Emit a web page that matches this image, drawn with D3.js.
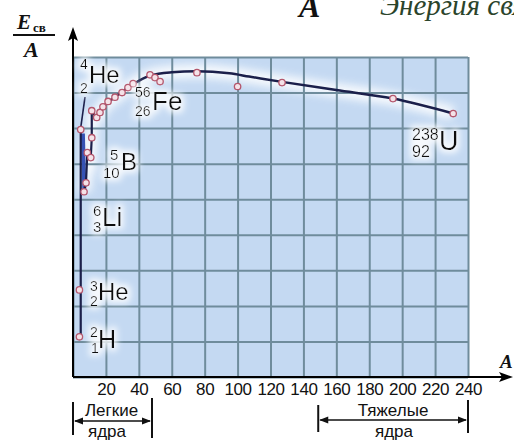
<!DOCTYPE html>
<html><head><meta charset="utf-8">
<script src="https://cdn.jsdelivr.net/npm/d3@7"></script>
<style>body{margin:0;background:#fff;overflow:hidden}svg{display:block}</style>
</head><body>
<svg id="c" width="514" height="441"></svg>
<script>
// ---------- data ----------
const gridA = [0,20,40,60,80,100,120,140,160,180,200,220,240];
const gridE = [0,1,2,3,4,5,6,7,8,9];
const xTickLabels = [20,40,60,80,100,120,140,160,180,200,220,240];

// measured nuclides (mass number A, binding energy per nucleon, MeV)
const nuclideA = [3.9,3.9,4.7,6.7,7.9,8.7,10.8,11.4,11.4,14.4,16.4,18.2,21.3,25.5,29.8,33.4,36.5,46.8,49.8,52.9,75.3,100,127,194.4,231];
const nuclideE = [1.13,2.45,6.96,5.21,5.46,6.31,6.17,6.73,7.49,7.30,7.44,7.60,7.75,7.87,8.00,8.14,8.25,8.50,8.42,8.31,8.56,8.17,8.28,7.83,7.41];

// curve branches
const lightA = [4.7,4.7,4.7];
const lightE = [1.13,2.45,6.96];
const lowA = [6.7,7.9,8.7,10.8,11.4,11.4];
const lowE = [5.21,5.46,6.31,6.17,6.73,7.49];
const bandA = [6.0,6.9];
const bandE = [6.85,5.2];
const mainA = [11.4,14.4,18.2,25.5,33.4,40,47,60,75,95,107,127,160,194.4,231];
const mainE = [7.49,7.32,7.60,7.87,8.14,8.33,8.48,8.57,8.60,8.54,8.45,8.30,8.07,7.83,7.41];

// element labels
const elemSymbol = ["He","Fe","B","Li","He","H","U"];
const elemSup    = ["4","56","5","6","3","2","238"];
const elemSub    = ["2","26","10","3","2","1","92"];

// nuclei groups
const groupNames = ["Легкие","Тяжелые"];
const groupFrom  = [0,149];
const groupTo    = [48,240];

// ---------- layout / style ----------
const labelLayout = [
  {x:89, y:83, fs:24, sx:80, sy:69, bx:80, by:93, ns:14},
  {x:152,y:110,fs:26, sx:135,sy:97, bx:135,by:116,ns:14},
  {x:121,y:170,fs:24, sx:110,sy:160,bx:103,by:178,ns:15},
  {x:102,y:226,fs:26, sx:93, sy:216,bx:93, by:232,ns:15},
  {x:98, y:300,fs:24, sx:90, sy:291,bx:90, by:306,ns:14},
  {x:98, y:348,fs:25, sx:90, sy:337,bx:91, by:353,ns:14},
  {x:439,y:150,fs:27, sx:412,sy:140,bx:412,by:157,ns:16}
];

const svg = d3.select("#c");
const x = d3.scaleLinear().domain([0,240]).range([73,468]);
const y = d3.scaleLinear().domain([0,9]).range([377,57]);
const W = x(240)-x(0), H = y(0)-y(9);

const defs = svg.append("defs");
defs.append("filter").attr("id","blur").attr("x","-20%").attr("y","-50%").attr("width","140%").attr("height","200%")
  .append("feGaussianBlur").attr("stdDeviation",4);
const glow = defs.append("filter").attr("id","glow").attr("x","-40%").attr("y","-60%").attr("width","180%").attr("height","220%");
glow.append("feMorphology").attr("in","SourceAlpha").attr("operator","dilate").attr("radius",3).attr("result","d");
glow.append("feGaussianBlur").attr("in","d").attr("stdDeviation",3).attr("result","b");
glow.append("feFlood").attr("flood-color","#ffffff").attr("flood-opacity",0.85).attr("result","f");
glow.append("feComposite").attr("in","f").attr("in2","b").attr("operator","in").attr("result","g");
const gm = glow.append("feMerge");
gm.append("feMergeNode").attr("in","g");
gm.append("feMergeNode").attr("in","SourceGraphic");

// plot background
svg.append("rect").attr("x",x(0)).attr("y",y(9)).attr("width",W).attr("height",H).attr("fill","#c4d9f2");

const line = d3.line().x(d=>x(d[0])).y(d=>y(d[1]));
const smooth = d3.line().x(d=>x(d[0])).y(d=>y(d[1])).curve(d3.curveMonotoneX);
const mainPts = d3.zip(mainA, mainE);
const lowPts = d3.zip(lowA, lowE);
const lightPts = d3.zip(lightA, lightE);
const bandPts = d3.zip(bandA, bandE);

// soft white halo
const halo = svg.append("g").attr("filter","url(#blur)").attr("opacity",0.85);
halo.append("path").attr("d", smooth(mainPts)).attr("fill","none").attr("stroke","#fff").attr("stroke-width",14);
halo.append("path").attr("d", line(lowPts)).attr("fill","none").attr("stroke","#fff").attr("stroke-width",12);

// grid
const gx = svg.append("g").attr("transform",`translate(0,${y(0)})`)
  .call(d3.axisBottom(x).tickValues(gridA).tickSize(-H).tickFormat(""));
gx.select(".domain").remove();
gx.selectAll(".tick line").attr("stroke","#6f8c9c").attr("stroke-width",2);
const gy = svg.append("g").attr("transform",`translate(${x(0)},0)`)
  .call(d3.axisLeft(y).tickValues(gridE).tickSize(-W).tickFormat(""));
gy.select(".domain").remove();
gy.selectAll(".tick line").attr("stroke","#6f8c9c").attr("stroke-width",2);

// axes (black) with arrows
svg.append("line").attr("x1",x(0)).attr("x2",x(0)).attr("y1",y(0)).attr("y2",31).attr("stroke","#000").attr("stroke-width",2);
svg.append("path").attr("d",`M${x(0)},27 L${x(0)-5},41 L${x(0)},38 L${x(0)+5},41 Z`).attr("fill","#000");
svg.append("line").attr("x1",x(0)).attr("x2",509).attr("y1",y(0)).attr("y2",y(0)).attr("stroke","#000").attr("stroke-width",2);
svg.append("path").attr("d",`M513,${y(0)} L499,${y(0)-5} L502,${y(0)} L499,${y(0)+5} Z`).attr("fill","#000");

// x tick labels
const xl = svg.append("g").attr("transform",`translate(0,${y(0)})`)
  .call(d3.axisBottom(x).tickValues(xTickLabels).tickSize(0).tickPadding(6));
xl.select(".domain").remove();
xl.selectAll("text").attr("font-family","Liberation Sans, Arial, sans-serif").attr("font-size",17).attr("fill","#111").attr("letter-spacing","-0.4");

// curves
const ink = "#1b1f4a";
svg.append("path").attr("d", line(bandPts)).attr("fill","none").attr("stroke","#3652b4").attr("stroke-width",4);
svg.append("path").attr("d", line(lightPts)).attr("fill","none").attr("stroke",ink).attr("stroke-width",2.2);
svg.append("path").attr("d", line(lowPts)).attr("fill","none").attr("stroke",ink).attr("stroke-width",2.2);
svg.append("path").attr("d", smooth(mainPts)).attr("fill","none").attr("stroke",ink).attr("stroke-width",2.5);

// He leader line
svg.append("line").attr("x1",85).attr("y1",97).attr("x2",x(lightA[2])).attr("y2",y(lightE[2])-2)
  .attr("stroke",ink).attr("stroke-width",1.6);

// points
svg.append("g").selectAll("circle").data(d3.zip(nuclideA,nuclideE)).join("circle")
  .attr("cx",d=>x(d[0])).attr("cy",d=>y(d[1])).attr("r",3.2)
  .attr("fill","#f4e2e8").attr("stroke","#b4566c").attr("stroke-width",1.3);

// element labels
const lab = svg.append("g").attr("font-family","Liberation Sans, Arial, sans-serif").attr("fill","#111");
elemSymbol.forEach((s,i)=>{
  const L = labelLayout[i];
  const g = lab.append("g").attr("filter","url(#glow)");
  g.append("text").attr("x",L.x).attr("y",L.y).attr("font-size",L.fs).text(s);
  g.append("text").attr("x",L.sx).attr("y",L.sy).attr("font-size",L.ns).text(elemSup[i]);
  g.append("text").attr("x",L.bx).attr("y",L.by).attr("font-size",L.ns).text(elemSub[i]);
});

// y-axis label E_св / A
const serif = "Liberation Serif, Times New Roman, serif";
svg.append("text").attr("x",17).attr("y",29).attr("font-family",serif).attr("font-size",21)
  .attr("font-weight","bold").attr("font-style","italic").attr("fill","#111").text("E");
svg.append("text").attr("x",33).attr("y",32).attr("font-family",serif).attr("font-size",13)
  .attr("font-weight","bold").attr("fill","#111").text("св");
svg.append("line").attr("x1",13).attr("x2",55).attr("y1",35).attr("y2",35).attr("stroke","#111").attr("stroke-width",2);
svg.append("text").attr("x",24).attr("y",57).attr("font-family",serif).attr("font-size",22)
  .attr("font-weight","bold").attr("font-style","italic").attr("fill","#111").text("A");

// x-axis label
svg.append("text").attr("x",500).attr("y",368).attr("font-family",serif).attr("font-size",19)
  .attr("font-weight","bold").attr("font-style","italic").attr("fill","#111").text("A");

// top header (cut off by the frame, as in the source)
svg.append("text").attr("x",299).attr("y",17).attr("font-family",serif).attr("font-size",32)
  .attr("font-weight","bold").attr("font-style","italic").attr("fill","#111").text("A");
svg.append("text").attr("x",380).attr("y",15).attr("font-family",serif).attr("font-size",29)
  .attr("font-style","italic").attr("fill","#2b442b").text("Энергия связи");

// group brackets
const br = svg.append("g");
const bracketStyle = [
  {ly:421, l1:[402,435], r1:[398,438], ty:416, by:437},
  {ly:420, l1:[405,432], r1:[400,433], ty:416, by:437}
];
groupNames.forEach((n,i)=>{
  const s = bracketStyle[i];
  const x0 = x(groupFrom[i]), x1 = x(groupTo[i]);
  br.append("line").attr("x1",x0).attr("x2",x0).attr("y1",s.l1[0]).attr("y2",s.l1[1]).attr("stroke","#111").attr("stroke-width",2);
  br.append("line").attr("x1",x1).attr("x2",x1).attr("y1",s.r1[0]).attr("y2",s.r1[1]).attr("stroke","#111").attr("stroke-width",2);
  br.append("line").attr("x1",x0+2).attr("x2",x1-2).attr("y1",s.ly).attr("y2",s.ly).attr("stroke","#111").attr("stroke-width",1.6);
  br.append("path").attr("d",`M${x0+1},${s.ly} L${x0+10},${s.ly-3.5} L${x0+10},${s.ly+3.5} Z`).attr("fill","#111");
  br.append("path").attr("d",`M${x1-1},${s.ly} L${x1-10},${s.ly-3.5} L${x1-10},${s.ly+3.5} Z`).attr("fill","#111");
  const cx = (x0+x1)/2 + (i===0?-1:0);
  br.append("text").attr("x",cx).attr("y",s.ty).attr("text-anchor","middle").attr("font-family","Liberation Sans, Arial, sans-serif")
    .attr("font-size",17).attr("fill","#111").text(n);
  br.append("text").attr("x",i===0?107:394).attr("y",s.by).attr("text-anchor","middle").attr("font-family","Liberation Sans, Arial, sans-serif")
    .attr("font-size",17).attr("fill","#111").text("ядра");
});
</script>
</body></html>
